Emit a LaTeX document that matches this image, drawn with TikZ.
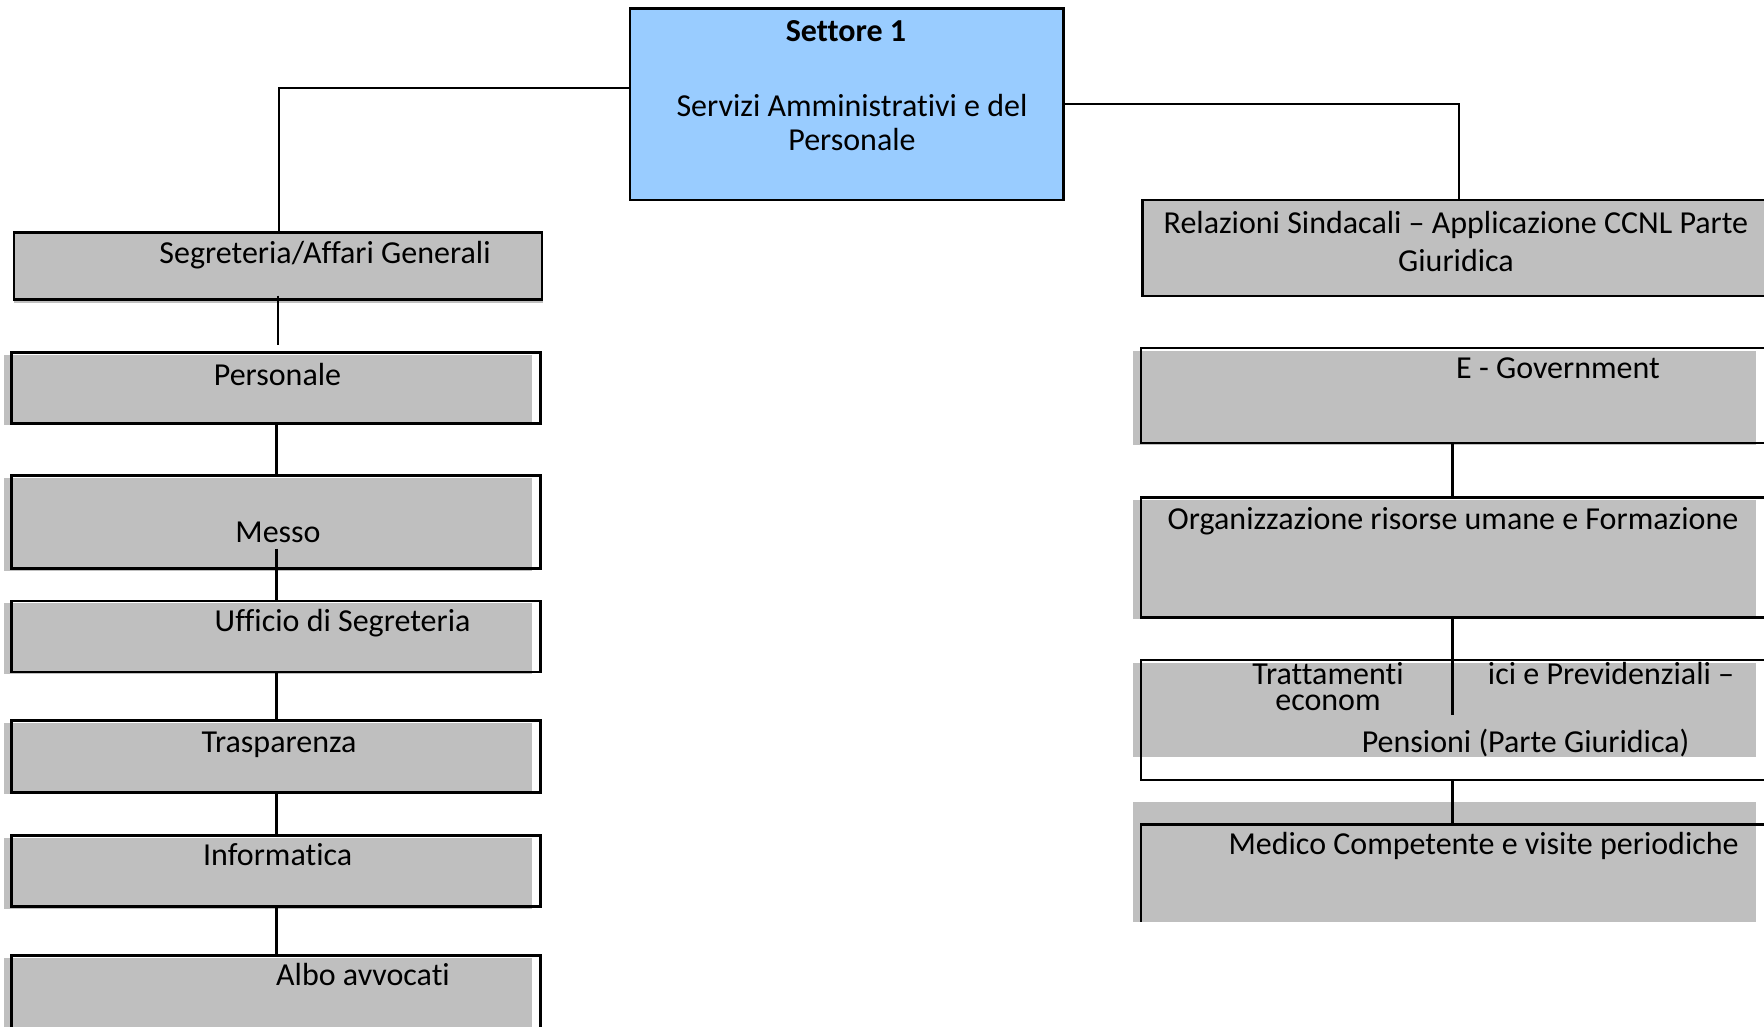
\documentclass[tikz,border=0pt]{standalone}
\usepackage{fontspec}
\setmainfont{Carlito}[Ligatures={NoCommon}]
\definecolor{boxgray}{HTML}{BFBFBF}
\definecolor{boxblue}{HTML}{99CCFF}
\begin{document}
\begin{tikzpicture}[x=1pt,y=-1pt,
  outl/.style={draw=black, line width=2.6pt, inner sep=0pt, outer sep=0pt, rectangle, anchor=north west},
  ghost/.style={draw=none, inner sep=0pt, outer sep=0pt, rectangle, anchor=north west},
  lbl/.style={inner sep=0pt, anchor=base, font=\fontsize{32}{38}\selectfont},
  conn/.style={draw=black, line width=3pt},
  topconn/.style={draw=black, line width=2.2pt},
]
\clip (0,0) rectangle (1764,1026);
\fill[white] (0,0) rectangle (1764,1026);

% ---------- gray fills (offset backgrounds) ----------
\fill[boxgray] (14,233) rectangle (543,303);
\fill[boxgray] (3.8,354.5) rectangle (532,425);
\fill[boxgray] (3.8,478) rectangle (532,570.5);
\fill[boxgray] (3.8,603) rectangle (532,674);
\fill[boxgray] (3.8,723) rectangle (532,794);
\fill[boxgray] (3.8,838) rectangle (532,908.5);
\fill[boxgray] (3.8,958) rectangle (532,1030);
\fill[boxgray] (1142.4,200) rectangle (1770,295.7);
\fill[boxgray] (1133,350.5) rectangle (1755.6,445);
\fill[boxgray] (1132.5,500) rectangle (1755.6,619);
\fill[boxgray] (1133,663) rectangle (1755.6,757);
\fill[boxgray] (1133,802) rectangle (1755.6,921.7);

% ---------- boxes ----------
\node[outl, fill=boxblue, line width=2.4pt, minimum width=433.5pt, minimum height=191.7pt] (set) at (630,8.3) {};
\node[outl, minimum width=528pt, minimum height=67pt] (seg) at (14,232.5) {};
\node[outl, minimum width=528.9pt, minimum height=71pt] (pers) at (11.5,352.3) {};
\node[outl, minimum width=528.9pt, minimum height=93pt] (messo) at (11.5,475.7) {};
\node[outl, minimum width=528.9pt, minimum height=71pt] (uff) at (11.5,601) {};
\node[outl, minimum width=528.9pt, minimum height=71.6pt] (trasp) at (11.5,720.7) {};
\node[outl, minimum width=528.9pt, minimum height=71pt] (inf) at (11.5,835.7) {};
\node[outl, minimum width=528.9pt, minimum height=84pt] (albo) at (11.5,955.7) {};

\node[outl, line width=2.2pt, minimum width=657.6pt, minimum height=95.7pt] (rel) at (1142.4,200) {};
\node[outl, minimum width=659pt, minimum height=95pt] (egov) at (1141,348) {};
\node[outl, minimum width=659pt, minimum height=120.4pt] (org) at (1141,497.3) {};
\node[outl, minimum width=659pt, minimum height=120pt] (tratt) at (1141,660) {};
\node[ghost, minimum width=659pt, minimum height=97.4pt] (med) at (1141,824.3) {};
\draw[conn, line width=2.6pt] (med.south west) -- (med.north west) -- (med.north east);

% ---------- connectors ----------
\coordinate (lt) at (279,88);
\coordinate (rt) at (1459,104);
\coordinate (lx1) at (278,0);
\coordinate (lx) at (276,0);
\coordinate (rx) at (1452.5,0);
\draw[topconn] (lt -| set.west) -- (lt) -- (seg.north -| lt);
\draw[topconn] (rt -| set.east) -- (rt) -- (rel.north -| rt);
\draw[conn, line width=2.4pt] ([yshift=4pt]seg.south -| lx1) -- ([yshift=7pt]pers.north -| lx1);
\draw[conn] (pers.south -| lx) -- (messo.north -| lx);
\draw[conn] ([yshift=20pt]messo.south -| lx) -- (uff.north -| lx);
\draw[conn] (uff.south -| lx) -- (trasp.north -| lx);
\draw[conn] (trasp.south -| lx) -- (inf.north -| lx);
\draw[conn] (inf.south -| lx) -- (albo.north -| lx);
\draw[conn] (egov.south -| rx) -- (org.north -| rx);
\draw[conn] (org.south -| rx) -- ([yshift=-55pt]tratt.north -| rx);
\draw[conn] (tratt.south -| rx) -- (med.north -| rx);

% ---------- texts ----------
\node[lbl, font=\fontsize{32}{38}\selectfont\bfseries] (t1) at (846,41) {Settore 1};
\node[lbl] (t2) at (852,116.5) {Servizi Amministrativi e del};
\node[lbl] (t3) at (852,150.5) {Personale};
\node[lbl] (tseg) at (325,263) {Segreteria/Affari Generali};
\node[lbl] (tpers) at (277.5,385) {Personale};
\node[lbl] (tmesso) at (278,542) {Messo};
\node[lbl] (tuff) at (342.6,631.5) {Ufficio di Segreteria};
\node[lbl] (ttrasp) at (279,752) {Trasparenza};
\node[lbl] (tinf) at (277.7,865.5) {Informatica};
\node[lbl] (talbo) at (363,985.5) {Albo avvocati};
\node[lbl] (trel1) at (1456,233) {Relazioni Sindacali – Applicazione CCNL Parte};
\node[lbl] (trel2) at (1456,271.5) {Giuridica};
\node[lbl] (tegov) at (1558,378.5) {E - Government};
\node[lbl] (torg) at (1453,529) {Organizzazione risorse umane e Formazione};
\node[lbl] (ttr1) at (1328,684) {Trattamenti};
\node[lbl] (ttr2) at (1328,710) {econom};
\node[lbl] (ttr3) at (1611,684) {ici e Previdenziali –};
\node[lbl] (ttr4) at (1525.6,752) {Pensioni (Parte Giuridica)};
\node[lbl] (tmed) at (1483.6,854) {Medico Competente e visite periodiche};
\end{tikzpicture}
\end{document}
